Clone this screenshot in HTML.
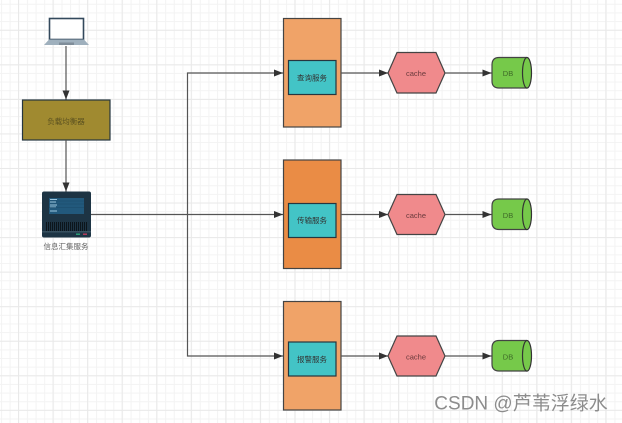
<!DOCTYPE html>
<html><head><meta charset="utf-8"><style>
html,body{margin:0;padding:0;background:#fff}
svg{display:block}
text{font-family:"Liberation Sans","Noto Sans CJK SC",sans-serif;text-anchor:middle}
</style></head><body>
<svg width="622" height="423" viewBox="0 0 622 423" xmlns="http://www.w3.org/2000/svg">
<defs>
<pattern id="minor" width="8.64" height="8.64" patternUnits="userSpaceOnUse" x="1" y="3.8">
<path d="M0.5 0V8.64M0 0.5H8.64" stroke="#f3f3f3" stroke-width="1" fill="none"/>
</pattern>
<pattern id="major" width="34.55" height="34.55" patternUnits="userSpaceOnUse" x="18" y="29.8">
<path d="M0.5 0V34.55M0 0.5H34.55" stroke="#e9e9e9" stroke-width="1" fill="none"/>
</pattern>
<marker id="a" markerWidth="11" markerHeight="9" refX="9" refY="3.5" orient="auto" markerUnits="userSpaceOnUse">
<path d="M0 0L9 3.5L0 7Z" fill="#333"/>
</marker>
</defs>
<rect width="622" height="423" fill="#fff"/>
<rect width="622" height="423" fill="url(#minor)"/>
<rect width="622" height="423" fill="url(#major)"/>

<!-- laptop -->
<rect x="49.500" y="18.500" width="34" height="21" fill="#fff" stroke="#33495c" stroke-width="1.600"/>
<path d="M49 39.500H84L89 45H44Z" fill="#9fb0bd"/>
<rect x="59" y="42.500" width="15" height="2.500" fill="#7f8d99"/>

<!-- left flow -->
<path d="M66 46V99.500" stroke="#555" stroke-width="1.200" fill="none" marker-end="url(#a)"/>
<rect x="22.500" y="100" width="87.500" height="40" fill="#a08a30" stroke="#26363f" stroke-width="1.200"/>
<text x="66" y="124" font-size="7.500" fill="#5b5120">负载均衡器</text>
<path d="M66 140V191.500" stroke="#555" stroke-width="1.200" fill="none" marker-end="url(#a)"/>

<!-- server -->
<rect x="42" y="191.500" width="49" height="46" rx="2" fill="#1d3444"/>
<rect x="49" y="198" width="35" height="16" fill="#22597c"/>
<path d="M50 199.500H57M50 202H56M50 205H57M50 207H56M50 211H57" stroke="#9cc6de" stroke-width="1"/>
<path d="M49 201H84M49 204H84M49 207.500H84" stroke="#1b4a68" stroke-width="0.600"/>
<path d="M46 226.500H87" stroke="#0c151b" stroke-width="9" stroke-dasharray="1 1" fill="none"/>
<rect x="42" y="231" width="49" height="1.500" fill="#38505f"/>
<rect x="76" y="233.500" width="4" height="1.400" fill="#2ca67a"/>
<rect x="83" y="233.500" width="4" height="1.400" fill="#c03a5a"/>
<text x="66" y="249" font-size="7.500" fill="#666">信息汇集服务</text>

<!-- connectors -->
<path d="M91 214.500H283" stroke="#555" stroke-width="1.200" fill="none" marker-end="url(#a)"/>
<path d="M187.500 214.500V73H283" stroke="#555" stroke-width="1.200" fill="none" marker-end="url(#a)"/>
<path d="M187.500 214.500V356H283" stroke="#555" stroke-width="1.200" fill="none" marker-end="url(#a)"/>

<!-- row 1 -->
<rect x="283.500" y="18.500" width="57.500" height="108.500" fill="#f0a368" stroke="#444" stroke-width="1.200"/>
<rect x="288.500" y="60.500" width="47.500" height="34" fill="#43c4c6" stroke="#26363f" stroke-width="1.200"/>
<text x="312" y="80.500" font-size="7.500" fill="#333">查询服务</text>
<path d="M341 73H388" stroke="#555" stroke-width="1.200" fill="none" marker-end="url(#a)"/>
<path d="M388 73L397 52.500H436L445 73L436 93H397Z" fill="#f08a8c" stroke="#444" stroke-width="1.200"/>
<text x="416" y="76" font-size="7.500" fill="#6a3a3c">cache</text>
<path d="M445 73H491.500" stroke="#555" stroke-width="1.200" fill="none" marker-end="url(#a)"/>
<path d="M527 57.500H499Q492 57.500 492 65V81Q492 88 499 88H527" fill="#76c94a" stroke="#444" stroke-width="1.200"/>
<ellipse cx="527" cy="72.800" rx="4.500" ry="15.300" fill="#76c94a" stroke="#333" stroke-width="1.200"/>
<text x="508" y="76" font-size="7.500" fill="#3f6a28">DB</text>

<!-- row 2 -->
<rect x="283.500" y="160" width="57.500" height="108.500" fill="#ea8c45" stroke="#444" stroke-width="1.200"/>
<rect x="288.500" y="203.500" width="47.500" height="34" fill="#43c4c6" stroke="#26363f" stroke-width="1.200"/>
<text x="312" y="223" font-size="7.500" fill="#333">传输服务</text>
<path d="M341 214.500H388" stroke="#555" stroke-width="1.200" fill="none" marker-end="url(#a)"/>
<path d="M388 214.500L397 194.500H436L445 214.500L436 234.500H397Z" fill="#f08a8c" stroke="#444" stroke-width="1.200"/>
<text x="416" y="218" font-size="7.500" fill="#6a3a3c">cache</text>
<path d="M445 214.500H491.500" stroke="#555" stroke-width="1.200" fill="none" marker-end="url(#a)"/>
<path d="M527 199H499Q492 199 492 206V222Q492 229.500 499 229.500H527" fill="#76c94a" stroke="#444" stroke-width="1.200"/>
<ellipse cx="527" cy="214.300" rx="4.500" ry="15.300" fill="#76c94a" stroke="#333" stroke-width="1.200"/>
<text x="508" y="218" font-size="7.500" fill="#3f6a28">DB</text>

<!-- row 3 -->
<rect x="283.500" y="301.500" width="57.500" height="108.500" fill="#f0a368" stroke="#444" stroke-width="1.200"/>
<rect x="288.500" y="342" width="47.500" height="34" fill="#43c4c6" stroke="#26363f" stroke-width="1.200"/>
<text x="312" y="362" font-size="7.500" fill="#333">报警服务</text>
<path d="M341 356H388" stroke="#555" stroke-width="1.200" fill="none" marker-end="url(#a)"/>
<path d="M388 356L397 336H436L445 356L436 376H397Z" fill="#f08a8c" stroke="#444" stroke-width="1.200"/>
<text x="416" y="359.500" font-size="7.500" fill="#6a3a3c">cache</text>
<path d="M445 356H491.500" stroke="#555" stroke-width="1.200" fill="none" marker-end="url(#a)"/>
<path d="M527 340.500H499Q492 340.500 492 348V364Q492 371 499 371H527" fill="#76c94a" stroke="#444" stroke-width="1.200"/>
<ellipse cx="527" cy="355.800" rx="4.500" ry="15.300" fill="#76c94a" stroke="#333" stroke-width="1.200"/>
<text x="508" y="359.500" font-size="7.500" fill="#3f6a28">DB</text>

<!-- watermark -->
<text x="521" y="409.500" font-size="19" fill="#8c8c8c">CSDN @芦苇浮绿水</text>
</svg>
</body></html>
